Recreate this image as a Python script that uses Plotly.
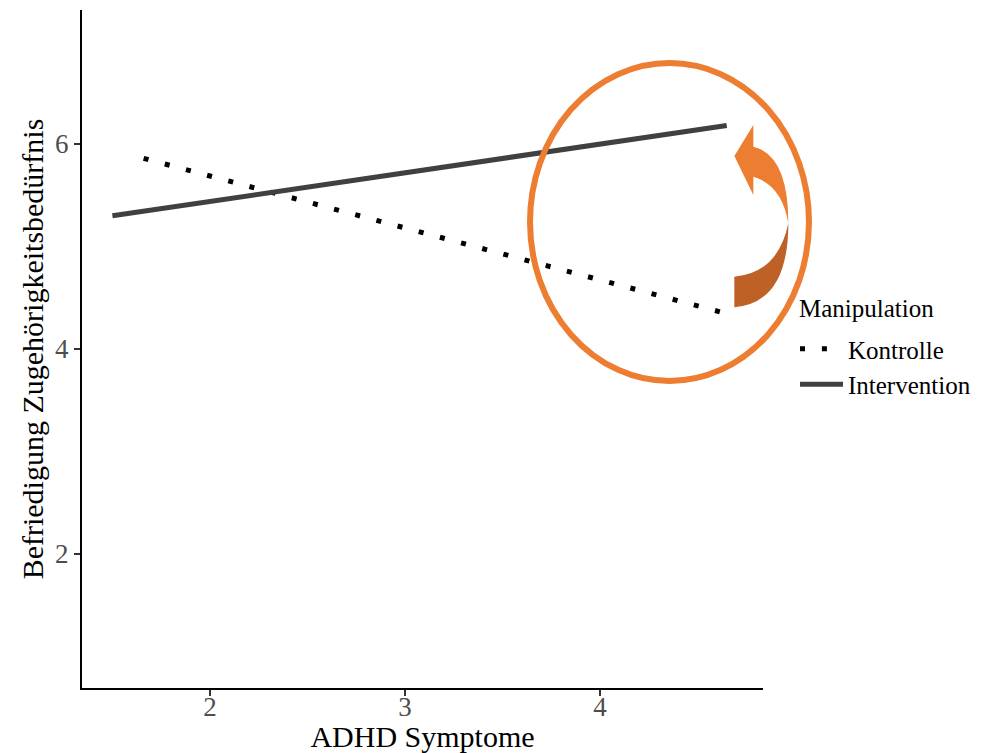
import plotly.graph_objects as go

# --- data ---
groups = ["Kontrolle", "Intervention"]
adhd_kontrolle = [1.66, 4.62]
need_kontrolle = [5.86, 4.36]
adhd_intervention = [1.50, 4.65]
need_intervention = [5.30, 6.18]

x_ticks = [2, 3, 4]
y_ticks = [2, 4, 6]

W, H = 988, 753
M_L, M_R, M_T, M_B = 82, 225, 10, 65
PW, PH = W - M_L - M_R, H - M_T - M_B

FONT = "Liberation Serif, Times New Roman, serif"
ORANGE = "#ED7D31"
ORANGE_DARK = "#BE6127"


def pp(px, py):
    # pixel position -> paper coordinates (for the hand drawn highlight)
    return (px - M_L) / PW, (M_T + PH - py) / PH


def path(cmds):
    out = []
    for c in cmds:
        if isinstance(c, str):
            out.append(c)
        else:
            x, y = pp(*c)
            out.append(f"{x:.4f},{y:.4f}")
    return " ".join(out)


fig = go.Figure()

fig.add_trace(go.Scatter(
    x=adhd_kontrolle, y=need_kontrolle, mode="lines", name=groups[0],
    line=dict(color="#000000", width=5, dash="5px,16.9px"),
))
fig.add_trace(go.Scatter(
    x=adhd_intervention, y=need_intervention, mode="lines", name=groups[1],
    line=dict(color="#404040", width=5),
))

# orange ellipse
ex0, ey0 = pp(530, 63)
ex1, ey1 = pp(809, 381)
fig.add_shape(type="circle", xref="paper", yref="paper",
              x0=ex0, x1=ex1, y0=ey1, y1=ey0,
              line=dict(color=ORANGE, width=6), fillcolor="rgba(0,0,0,0)")

# curved arrow, lower (dark) part
dark = path(["M", (788.3, 223.3),
             "Q", (788.3, 303), (734.3, 307.3),
             "L", (734.3, 276.7),
             "Q", (778, 273), (788.3, 223.3), "Z"])
fig.add_shape(type="path", xref="paper", yref="paper", path=dark,
              fillcolor=ORANGE_DARK, line=dict(width=0))

# curved arrow, upper (light) part with head
light = path(["M", (734.3, 156),
              "L", (753.3, 125),
              "L", (753.3, 146.7),
              "Q", (788.3, 155), (788.3, 223.3),
              "Q", (782, 185), (753.3, 176.7),
              "L", (753.3, 195), "Z"])
fig.add_shape(type="path", xref="paper", yref="paper", path=light,
              fillcolor=ORANGE, line=dict(width=0))

# legend title placed by hand to get the ggplot spacing
tx, ty = pp(797, 308)
fig.add_annotation(text="Manipulation", xref="paper", yref="paper",
                   x=tx, y=ty, xanchor="left", yanchor="middle",
                   showarrow=False, font=dict(family=FONT, size=25, color="#000000"))

fig.update_layout(
    width=W, height=H,
    margin=dict(l=M_L, r=M_R, t=M_T, b=M_B, autoexpand=False),
    paper_bgcolor="white", plot_bgcolor="white",
    font=dict(family=FONT, size=25, color="#000000"),
    showlegend=True,
    legend=dict(
        x=1.047, xanchor="left", y=pp(0, 326)[1], yanchor="top",
        font=dict(size=25), itemwidth=43,
        bgcolor="rgba(0,0,0,0)",
    ),
)

fig.update_xaxes(
    range=[1.344, 4.836], tickvals=x_ticks, automargin=False,
    showline=True, linecolor="#000000", linewidth=2,
    ticks="outside", ticklen=6, tickwidth=2, tickcolor="#333333",
    tickfont=dict(family=FONT, size=27, color="#4D4D4D"), ticklabelstandoff=-12,
    showgrid=False, zeroline=False,
    title=dict(text="ADHD Symptome", font=dict(family=FONT, size=30, color="#000000"), standoff=2),
)
fig.update_yaxes(
    range=[0.693, 7.307], tickvals=y_ticks, automargin=False,
    showline=True, linecolor="#000000", linewidth=2,
    ticks="outside", ticklen=6, tickwidth=2, tickcolor="#333333",
    tickfont=dict(family=FONT, size=27, color="#4D4D4D"),
    showgrid=False, zeroline=False,
    title=dict(text="Befriedigung Zugehörigkeitsbedürfnis",
               font=dict(family=FONT, size=30, color="#000000"), standoff=3),
)

fig.write_html("out.html", config={"displayModeBar": False},
               post_script="document.body.style.margin='0';")
